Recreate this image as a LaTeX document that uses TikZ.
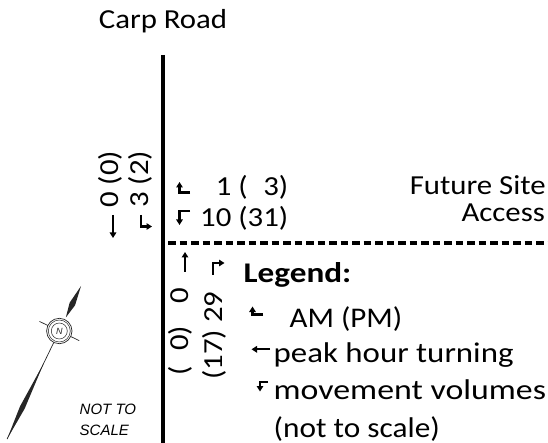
\documentclass[tikz,border=0pt]{standalone}
\usepackage{fontspec}
\setmainfont{Carlito}[FakeStretch=1.12]
\newfontfamily\arialfont{Liberation Sans}
\usetikzlibrary{arrows.meta,calc}
\tikzset{
  txt/.style={inner sep=0pt, font=\fontsize{27.5}{30}\selectfont},
  legtxt/.style={inner sep=0pt, font=\fontsize{28.5}{30}\selectfont},
  mv/.style={line width=2.2pt, -{Triangle[length=5.5pt,width=6.5pt]}},
  road/.style={line width=3.5pt},
  access/.style={line width=3.5pt, dash pattern=on 7.5pt off 4pt},
  cmp/.style={line width=0.7pt, black!85},
  nts/.style={inner sep=0pt, font=\arialfont\itshape\fontsize{15}{16}\selectfont},
}
\begin{document}
\begin{tikzpicture}[x=1pt,y=-1pt]
\useasboundingbox (0,0) rectangle (548,443);
% roads
\coordinate (rn) at (163,55);
\coordinate (rs) at (163,443);
\draw[road] (rn) -- (rs);
\coordinate (aw) at (168,243);
\coordinate (ae) at (548,243);
\draw[access] (aw) -- (ae);
% labels
\node[txt, anchor=base] (carp) at (163,29) {Carp Road};
\node[txt, anchor=base east] (fut) at (546,195) {Future Site};
\node[txt, anchor=base east] (acc) at (545,222) {Access};
% eastbound side volumes
\node[txt, anchor=base west] (v1) at (200,196) {\hphantom{0}1 (\hphantom{0}3)};
\node[txt, anchor=base west] (v2) at (200,227) {10 (31)};
\draw[mv] (190,192.5) -- (179.5,192.5) -- (179.5,182);
\draw[mv] (190,211) -- (179.5,211) -- (179.5,225);
% southbound volumes (north leg)
\node[txt, anchor=base west, rotate=90] (s1) at (118,208) {0 (0)};
\node[txt, anchor=base west, rotate=90] (s2) at (148,208) {3 (2)};
\draw[mv] (113,215) -- (113,238);
\draw[mv] (141,215) -- (141,226.5) -- (152,226.5);
% northbound volumes (south leg)
\node[txt, anchor=base west, rotate=90] (n1) at (188,376) {(\hphantom{0}0) \hphantom{0}0};
\node[txt, anchor=base west, rotate=90] (n2) at (222,380) {(17) 29};
\draw[mv] (185,272) -- (185,252);
\draw[mv] (213.3,275) -- (213.3,263) -- (224.5,263);
% legend
\node[legtxt, anchor=base west, font=\bfseries\fontsize{28.5}{30}\selectfont] (leg) at (243.5,283) {\scalebox{1.04}[1]{Legend:}};
\draw[mv] (263,314.5) -- (252.5,314.5) -- (252.5,306.5);
\node[legtxt, anchor=base west] (l1) at (289.5,327) {\scalebox{0.97}[1]{AM (PM)}};
\draw[mv] (270,349.3) -- (251.5,349.3);
\node[legtxt, anchor=base west] (l2) at (273.5,362) {\scalebox{1.03}[1]{peak hour turning}};
\draw[mv] (268,381.7) -- (260,381.7) -- (260,391.5);
\node[legtxt, anchor=base west] (l3) at (273.5,399.5) {\scalebox{1.06}[1]{movement volumes}};
\node[legtxt, anchor=base west] (l4) at (273.5,437) {\scalebox{0.98}[1]{(not to scale)}};
% north arrow
\coordinate (c) at (59.3,331);
\fill[black!85] ($(c)+15*(0.435,-0.9005)$) coordinate (d1)
   -- ($(c)+30*(0.435,-0.9005)+3*(0.9005,0.435)$)
   -- ($(c)+50*(0.435,-0.9005)$) coordinate (tipn)
   -- ($(c)+30*(0.435,-0.9005)-3*(0.9005,0.435)$) -- cycle;
\draw[cmp] ($(c)-22*(0.9005,0.435)$) -- ($(c)+22*(0.9005,0.435)$);
\draw[cmp] ($(c)-12.7*(0.435,-0.9005)$) -- ($(c)-120*(0.435,-0.9005)$) coordinate (tips);
\fill[black!85] ($(c)-35*(0.435,-0.9005)$)
   -- ($(c)-85*(0.435,-0.9005)+2.6*(0.9005,0.435)$)
   -- (tips)
   -- ($(c)-85*(0.435,-0.9005)-2.6*(0.9005,0.435)$) -- cycle;
\filldraw[cmp, fill=white] (c) circle[radius=12.7];
\draw[cmp, line width=0.5pt] (c) circle[radius=11];
\draw[cmp, line width=0.5pt] (c) circle[radius=8];
\node[inner sep=0pt, font=\arialfont\itshape\fontsize{9}{9}\selectfont, black!85] (nlet) at (c) {N};
\node[nts, anchor=base west] (nts1) at (79.5,414) {NOT TO};
\node[nts, anchor=base west] (nts2) at (79.5,435) {SCALE};
\end{tikzpicture}
\end{document}
